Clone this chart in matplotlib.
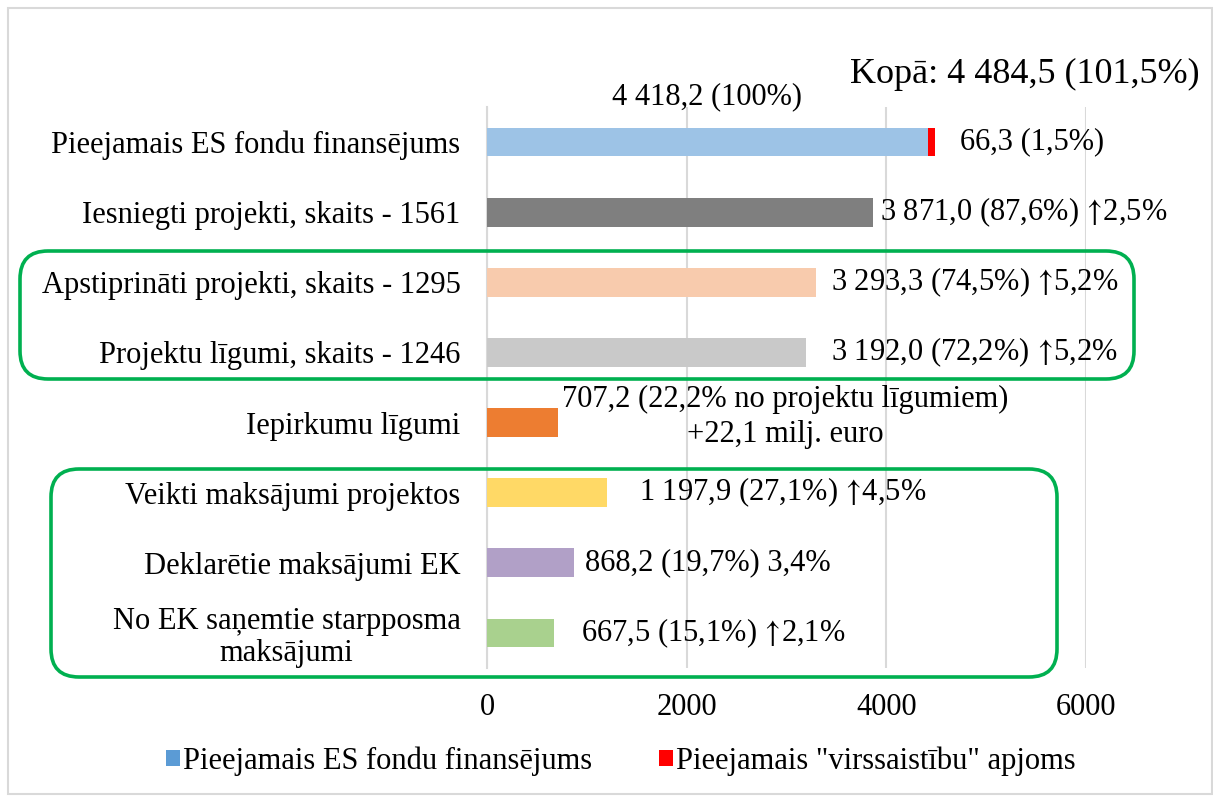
import matplotlib
matplotlib.use("Agg")
import matplotlib.pyplot as plt
from matplotlib.patches import Patch, FancyBboxPatch, Rectangle

plt.rcParams['font.family'] = ['Liberation Serif', 'DejaVu Serif']
plt.rcParams['mathtext.fontset'] = 'stix'

# ---- data ----
categories = [
    "Pieejamais ES fondu finansējums",
    "Iesniegti projekti, skaits - 1561",
    "Apstiprināti projekti, skaits - 1295",
    "Projektu līgumi, skaits - 1246",
    "Iepirkumu līgumi",
    "Veikti maksājumi projektos",
    "Deklarētie maksājumi EK",
    "No EK saņemtie starpposma\nmaksājumi",
]
values = [4418.2, 3871.0, 3293.3, 3192.0, 707.2, 1197.9, 868.2, 667.5]
extra_values = [66.3, 0, 0, 0, 0, 0, 0, 0]
bar_labels = [
    "66,3 (1,5%)",
    "3 871,0 (87,6%) ↑2,5%",
    "3 293,3 (74,5%) ↑5,2%",
    "3 192,0 (72,2%) ↑5,2%",
    "707,2 (22,2% no projektu līgumiem)\n+22,1 milj. euro",
    "1 197,9 (27,1%) ↑4,5%",
    "868,2 (19,7%) 3,4%",
    "667,5 (15,1%) ↑2,1%",
]
base_label = "4 418,2 (100%)"
total_label = "Kopā: 4 484,5 (101,5%)"
legend_labels = ["Pieejamais ES fondu finansējums", 'Pieejamais "virssaistību" apjoms']
xticks = [0, 2000, 4000, 6000]

# ---- styles ----
bar_colors = ["#9DC3E6", "#7F7F7F", "#F8CBAD", "#C9C9C9",
              "#ED7D31", "#FFD966", "#B1A0C7", "#A9D18E"]
extra_color = "#FF0000"
legend_colors = ["#5B9BD5", "#FF0000"]
label_offsets_px = [(25, 0), (7, 0), (15, 0), (25, 0), (228, 6), (32, 0), (11, 0), (27, 0)]
label_ha = ["left", "left", "left", "left", "center", "left", "left", "left"]

W, H = 1213, 797
fig = plt.figure(figsize=(W / 100, H / 100), dpi=100)
ax = fig.add_axes([487 / W, 1 - 668 / H, (1086 - 487) / W, (668 - 107) / H])

ypos = list(range(len(categories)))
ax.barh(ypos, values, height=0.41, color=bar_colors, zorder=3)
ax.barh(ypos, extra_values, left=values, height=0.41, color=extra_color, zorder=3)

ax.set_xlim(0, 6000)
ax.set_ylim(len(categories) - 0.5, -0.5)
ax.set_xticks(xticks)
ax.set_xticklabels([str(t) for t in xticks], fontsize=22)
ax.set_yticks(ypos)
ax.set_yticklabels(categories, fontsize=22)
for t in ax.get_yticklabels():
    t.set_multialignment('center')
    t.set_linespacing(1.12)
ax.tick_params(axis='y', length=0, pad=19)
ax.tick_params(axis='x', length=0, pad=18)
ax.grid(axis='x', color='#D9D9D9', linewidth=1.5, zorder=0)
for s in ['top', 'right', 'bottom']:
    ax.spines[s].set_visible(False)
ax.spines['left'].set_color('#D9D9D9')
ax.spines['left'].set_linewidth(1.5)

for i, (v, e, lab) in enumerate(zip(values, extra_values, bar_labels)):
    dx, dy = label_offsets_px[i]
    ax.annotate(lab.replace("↑", r"$\!{\uparrow}\!$"), xy=(v + e, i), xytext=(dx, dy),
                textcoords='offset pixels',
                ha=label_ha[i], va='center', fontsize=22, linespacing=1.27,
                annotation_clip=False)

ax.annotate(base_label, xy=(values[0] / 2, -0.5), xytext=(-1, 10),
            textcoords='offset pixels', ha='center', va='center', fontsize=22,
            annotation_clip=False)
fig.text(1200 / W, 1 - 74 / H, total_label, ha='right', va='center', fontsize=26)

# ---- overlay: frame and green boxes ----
ov = fig.add_axes([0, 0, 1, 1], zorder=5)
ov.set_xlim(0, W)
ov.set_ylim(H, 0)
ov.axis('off')
ov.patch.set_alpha(0)
ov.add_patch(Rectangle((7.5, 7.5), W - 9, H - 11, fill=False, edgecolor='#D9D9D9', linewidth=1.5))
for (x0, y0, x1, y1) in [(20, 251, 1134, 379), (51, 469, 1057, 677)]:
    ov.add_patch(FancyBboxPatch((x0, y0), x1 - x0, y1 - y0,
                                boxstyle="round,pad=0,rounding_size=28",
                                fill=False, edgecolor='#00B050', linewidth=2.6))

handles = [Patch(facecolor=c, edgecolor='none') for c in legend_colors]
fig.legend(handles, legend_labels, loc='center', bbox_to_anchor=(621 / W, 1 - 761 / H),
           ncol=2, frameon=False, fontsize=22, handlelength=0.45, handleheight=0.45,
           handletextpad=0.1, columnspacing=2.2)

fig.savefig("out.png", dpi=100)
